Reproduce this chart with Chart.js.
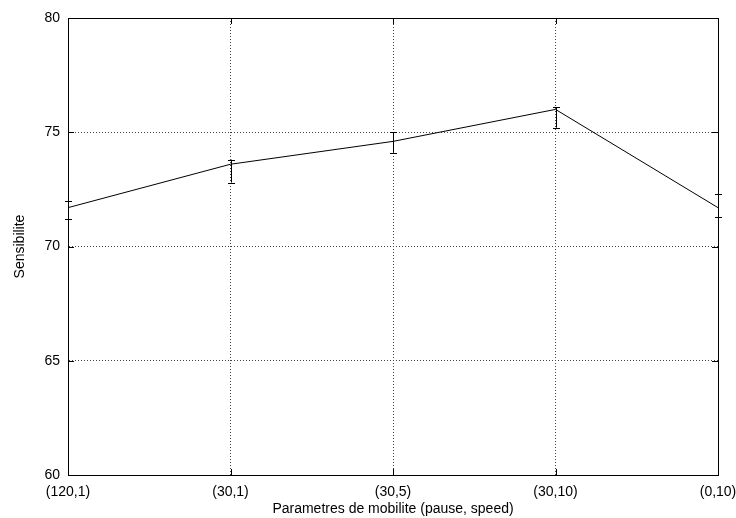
<!DOCTYPE html>
<html>
<head>
<meta charset="utf-8">
<script src="https://cdn.jsdelivr.net/npm/chart.js@4/dist/chart.umd.min.js"></script>
<style>
  html,body{margin:0;padding:0;background:#fff;}
  #wrap{width:736px;height:518px;position:relative;}
</style>
</head>
<body>
<div id="wrap"><canvas id="c"></canvas></div>
<script>
// data
const categories = ['(120,1)','(30,1)','(30,5)','(30,10)','(0,10)'];
const sensValues = [71.7, 73.6, 74.6, 76.0, 71.7];
const errLow     = [71.2, 72.8, 74.1, 75.2, 71.3];
const errHigh    = [72.0, 73.8, 75.0, 76.1, 72.3];
const yTicks = [60, 65, 70, 75, 80];

const FONT = 'Liberation Sans, Arial, Helvetica, sans-serif';

// error bars + inward tick marks like gnuplot
const extras = {
  id:'extras',
  afterDatasetsDraw(chart){
    const ctx = chart.ctx, x = chart.scales.x, y = chart.scales.y, a = chart.chartArea;
    ctx.save();
    ctx.strokeStyle = '#000';
    ctx.lineWidth = 1;
    ctx.beginPath();
    categories.forEach((c,i)=>{
      const px = Math.round(x.getPixelForValue(i))+0.5;
      const lo = y.getPixelForValue(errLow[i]), hi = y.getPixelForValue(errHigh[i]);
      ctx.moveTo(px, lo); ctx.lineTo(px, hi);
      ctx.moveTo(px-3.5, Math.round(lo)+0.5); ctx.lineTo(px+3.5, Math.round(lo)+0.5);
      ctx.moveTo(px-3.5, Math.round(hi)+0.5); ctx.lineTo(px+3.5, Math.round(hi)+0.5);
    });
    // ticks
    yTicks.forEach(v=>{
      const py = Math.round(y.getPixelForValue(v))+0.5;
      ctx.moveTo(a.left, py); ctx.lineTo(a.left+6, py);
      ctx.moveTo(a.right, py); ctx.lineTo(a.right-6, py);
    });
    categories.forEach((c,i)=>{
      const px = Math.round(x.getPixelForValue(i))+0.5;
      ctx.moveTo(px, a.bottom); ctx.lineTo(px, a.bottom-6);
      ctx.moveTo(px, a.top); ctx.lineTo(px, a.top+6);
    });
    ctx.stroke();
    ctx.restore();
  }
};

new Chart(document.getElementById('c'), {
  type:'line',
  data:{
    labels:categories,
    datasets:[{
      data:sensValues,
      borderColor:'#000',
      borderWidth:1,
      pointRadius:0,
      tension:0,
      fill:false
    }]
  },
  options:{
    responsive:true, maintainAspectRatio:false, animation:false,
    layout:{padding:{top:18,right:18,left:0,bottom:0}},
    plugins:{legend:{display:false},tooltip:{enabled:false}},
    scales:{
      x:{
        offset:false,
        grid:{color:'#444',drawTicks:false,lineWidth:1},
        border:{display:true,color:'#000',width:1,dash:[1,2]},
        ticks:{color:'#000',font:{size:14,family:FONT},padding:9,maxRotation:0,autoSkip:false},
        title:{display:true,text:'Parametres de mobilite (pause, speed)',color:'#000',font:{size:14,family:FONT},padding:{top:1,bottom:0}},
        afterFit(s){ s.height = 43; s.paddingLeft = 0; s.paddingRight = 0; }
      },
      y:{
        min:60, max:80,
        afterBuildTicks(s){ s.ticks = yTicks.map(v=>({value:v})); },
        grid:{color:'#444',drawTicks:false,lineWidth:1},
        border:{display:true,color:'#000',width:1,dash:[1,2]},
        ticks:{color:'#000',font:{size:14,family:FONT},padding:8},
        title:{display:true,text:'Sensibilite',color:'#000',font:{size:14,family:FONT},padding:{top:12,bottom:0}},
        afterFit(s){ s.width = 68; s.paddingTop = 0; s.paddingBottom = 0; }
      }
    }
  },
  plugins:[extras, {
    id:'frame',
    afterDraw(chart){
      const ctx = chart.ctx, a = chart.chartArea;
      ctx.save();
      ctx.strokeStyle = '#000'; ctx.lineWidth = 1;
      ctx.strokeRect(Math.round(a.left)+0.5, Math.round(a.top)+0.5, Math.round(a.right-a.left), Math.round(a.bottom-a.top));
      ctx.restore();
    }
  }]
});
</script>
</body>
</html>
